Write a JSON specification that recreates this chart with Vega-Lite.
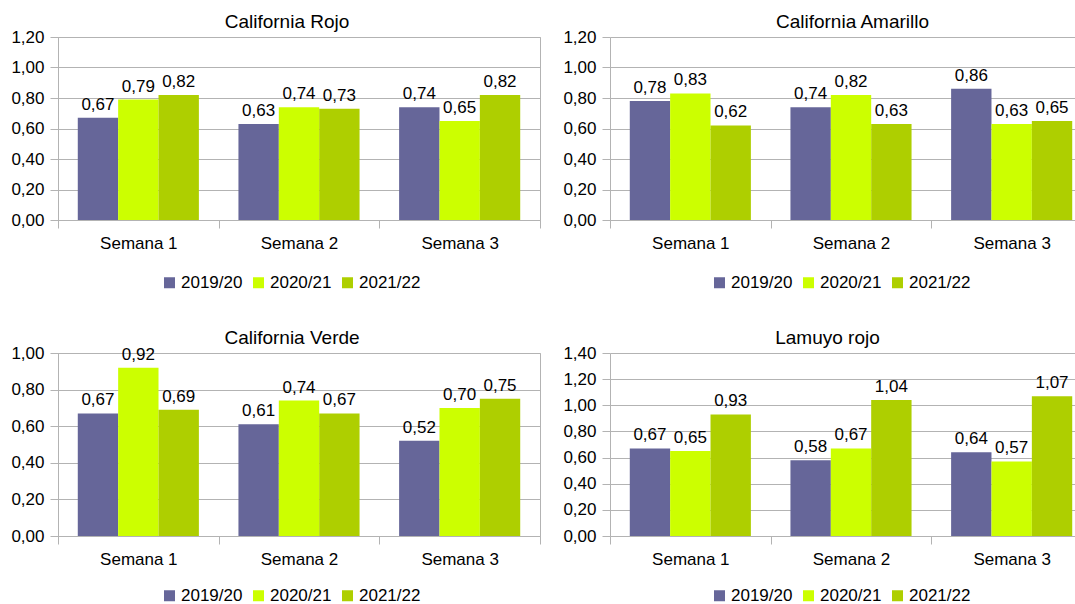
{
  "$schema": "https://vega.github.io/schema/vega-lite/v6.json",
  "background": "white",
  "padding": {"left": 10, "top": 12, "right": 0, "bottom": 0},
  "datasets": {
    "rojo": [
      {"semana": "Semana 1", "temporada": "2019/20", "valor": 0.67},
      {"semana": "Semana 1", "temporada": "2020/21", "valor": 0.79},
      {"semana": "Semana 1", "temporada": "2021/22", "valor": 0.82},
      {"semana": "Semana 2", "temporada": "2019/20", "valor": 0.63},
      {"semana": "Semana 2", "temporada": "2020/21", "valor": 0.74},
      {"semana": "Semana 2", "temporada": "2021/22", "valor": 0.73},
      {"semana": "Semana 3", "temporada": "2019/20", "valor": 0.74},
      {"semana": "Semana 3", "temporada": "2020/21", "valor": 0.65},
      {"semana": "Semana 3", "temporada": "2021/22", "valor": 0.82}
    ],
    "amarillo": [
      {"semana": "Semana 1", "temporada": "2019/20", "valor": 0.78},
      {"semana": "Semana 1", "temporada": "2020/21", "valor": 0.83},
      {"semana": "Semana 1", "temporada": "2021/22", "valor": 0.62},
      {"semana": "Semana 2", "temporada": "2019/20", "valor": 0.74},
      {"semana": "Semana 2", "temporada": "2020/21", "valor": 0.82},
      {"semana": "Semana 2", "temporada": "2021/22", "valor": 0.63},
      {"semana": "Semana 3", "temporada": "2019/20", "valor": 0.86},
      {"semana": "Semana 3", "temporada": "2020/21", "valor": 0.63},
      {"semana": "Semana 3", "temporada": "2021/22", "valor": 0.65}
    ],
    "verde": [
      {"semana": "Semana 1", "temporada": "2019/20", "valor": 0.67},
      {"semana": "Semana 1", "temporada": "2020/21", "valor": 0.92},
      {"semana": "Semana 1", "temporada": "2021/22", "valor": 0.69},
      {"semana": "Semana 2", "temporada": "2019/20", "valor": 0.61},
      {"semana": "Semana 2", "temporada": "2020/21", "valor": 0.74},
      {"semana": "Semana 2", "temporada": "2021/22", "valor": 0.67},
      {"semana": "Semana 3", "temporada": "2019/20", "valor": 0.52},
      {"semana": "Semana 3", "temporada": "2020/21", "valor": 0.70},
      {"semana": "Semana 3", "temporada": "2021/22", "valor": 0.75}
    ],
    "lamuyo": [
      {"semana": "Semana 1", "temporada": "2019/20", "valor": 0.67},
      {"semana": "Semana 1", "temporada": "2020/21", "valor": 0.65},
      {"semana": "Semana 1", "temporada": "2021/22", "valor": 0.93},
      {"semana": "Semana 2", "temporada": "2019/20", "valor": 0.58},
      {"semana": "Semana 2", "temporada": "2020/21", "valor": 0.67},
      {"semana": "Semana 2", "temporada": "2021/22", "valor": 1.04},
      {"semana": "Semana 3", "temporada": "2019/20", "valor": 0.64},
      {"semana": "Semana 3", "temporada": "2020/21", "valor": 0.57},
      {"semana": "Semana 3", "temporada": "2021/22", "valor": 1.07}
    ]
  },
  "spacing": 36,
  "resolve": {"scale": {"color": "independent"}, "legend": {"color": "independent"}},
  "vconcat": [
    {
      "spacing": 21,
      "resolve": {"scale": {"color": "independent"}, "legend": {"color": "independent"}},
      "hconcat": [
        {
          "title": {"text": "California Rojo", "dx": -12, "fontSize": 19, "fontWeight": "normal", "color": "black", "offset": -4},
          "data": {"name": "rojo"},
          "width": 482, "height": 183,
          "encoding": {
            "x": {"field": "semana", "type": "nominal", "scale": {"paddingInner": 0, "paddingOuter": 0}, "axis": {"tickBand": "extent"}},
            "xOffset": {"field": "temporada", "type": "nominal", "scale": {"paddingInner": 0, "paddingOuter": 0.49}},
            "y": {"field": "valor", "type": "quantitative", "scale": {"domain": [0, 1.2]}, "axis": {"values": [0, 0.2, 0.4, 0.6, 0.8, 1.0, 1.2]}},
            "color": {"field": "temporada", "type": "nominal", "scale": {"domain": ["2019/20", "2020/21", "2021/22"], "range": ["#666699", "#ccff00", "#aecf00"]}, "legend": {"orient": "none", "legendX": 103, "legendY": 237, "direction": "horizontal"}}
          },
          "layer": [
            {"mark": {"type": "bar"}},
            {"mark": {"type": "text", "dy": -8, "baseline": "alphabetic", "color": "black"}, "encoding": {"text": {"field": "valor", "type": "quantitative", "format": ".2f"}, "color": {"value": "black"}}}
          ]
        },
        {
          "title": {"text": "California Amarillo", "dx": 9, "fontSize": 19, "fontWeight": "normal", "color": "black", "offset": -4},
          "data": {"name": "amarillo"},
          "width": 467, "height": 183,
          "view": {"stroke": null},
          "encoding": {
            "x": {"field": "semana", "type": "nominal", "scale": {"paddingInner": 0, "paddingOuter": 0, "range": [0, 482]}, "axis": {"tickOffset": -80.33, "labelOffset": 80.33}},
            "xOffset": {"field": "temporada", "type": "nominal", "scale": {"paddingInner": 0, "paddingOuter": 0.49}},
            "y": {"field": "valor", "type": "quantitative", "scale": {"domain": [0, 1.2]}, "axis": {"values": [0, 0.2, 0.4, 0.6, 0.8, 1.0, 1.2]}},
            "color": {"field": "temporada", "type": "nominal", "scale": {"domain": ["2019/20", "2020/21", "2021/22"], "range": ["#666699", "#ccff00", "#aecf00"]}, "legend": {"orient": "none", "legendX": 101, "legendY": 237, "direction": "horizontal"}}
          },
          "layer": [
            {"mark": {"type": "bar"}},
            {"mark": {"type": "text", "dy": -8, "baseline": "alphabetic", "color": "black"}, "encoding": {"text": {"field": "valor", "type": "quantitative", "format": ".2f"}, "color": {"value": "black"}}}
          ]
        }
      ]
    },
    {
      "spacing": 21,
      "resolve": {"scale": {"color": "independent"}, "legend": {"color": "independent"}},
      "hconcat": [
        {
          "title": {"text": "California Verde", "dx": -7, "fontSize": 19, "fontWeight": "normal", "color": "black", "offset": -4},
          "data": {"name": "verde"},
          "width": 482, "height": 183,
          "encoding": {
            "x": {"field": "semana", "type": "nominal", "scale": {"paddingInner": 0, "paddingOuter": 0}, "axis": {"tickBand": "extent"}},
            "xOffset": {"field": "temporada", "type": "nominal", "scale": {"paddingInner": 0, "paddingOuter": 0.49}},
            "y": {"field": "valor", "type": "quantitative", "scale": {"domain": [0, 1.0]}, "axis": {"values": [0, 0.2, 0.4, 0.6, 0.8, 1.0]}},
            "color": {"field": "temporada", "type": "nominal", "scale": {"domain": ["2019/20", "2020/21", "2021/22"], "range": ["#666699", "#ccff00", "#aecf00"]}, "legend": {"orient": "none", "legendX": 103, "legendY": 234, "direction": "horizontal"}}
          },
          "layer": [
            {"mark": {"type": "bar"}},
            {"mark": {"type": "text", "dy": -8, "baseline": "alphabetic", "color": "black"}, "encoding": {"text": {"field": "valor", "type": "quantitative", "format": ".2f"}, "color": {"value": "black"}}}
          ]
        },
        {
          "title": {"text": "Lamuyo rojo", "dx": -16, "fontSize": 19, "fontWeight": "normal", "color": "black", "offset": -4},
          "data": {"name": "lamuyo"},
          "width": 467, "height": 183,
          "view": {"stroke": null},
          "encoding": {
            "x": {"field": "semana", "type": "nominal", "scale": {"paddingInner": 0, "paddingOuter": 0, "range": [0, 482]}, "axis": {"tickOffset": -80.33, "labelOffset": 80.33}},
            "xOffset": {"field": "temporada", "type": "nominal", "scale": {"paddingInner": 0, "paddingOuter": 0.49}},
            "y": {"field": "valor", "type": "quantitative", "scale": {"domain": [0, 1.4]}, "axis": {"values": [0, 0.2, 0.4, 0.6, 0.8, 1.0, 1.2, 1.4]}},
            "color": {"field": "temporada", "type": "nominal", "scale": {"domain": ["2019/20", "2020/21", "2021/22"], "range": ["#666699", "#ccff00", "#aecf00"]}, "legend": {"orient": "none", "legendX": 101, "legendY": 234, "direction": "horizontal"}}
          },
          "layer": [
            {"mark": {"type": "bar"}},
            {"mark": {"type": "text", "dy": -8, "baseline": "alphabetic", "color": "black"}, "encoding": {"text": {"field": "valor", "type": "quantitative", "format": ".2f"}, "color": {"value": "black"}}}
          ]
        }
      ]
    }
  ],
  "config": {
    "locale": {"number": {"decimal": ",", "thousands": ".", "grouping": [3], "currency": ["", " €"]}},
    "font": "Liberation Sans",
    "view": {"stroke": "#b3b3b3", "strokeWidth": 1},
    "title": {"fontSize": 19, "fontWeight": "normal", "color": "black", "font": "Liberation Sans"},
    "text": {"fontSize": 17, "font": "Liberation Sans"},
    "axis": {
      "labelFontSize": 17, "labelColor": "black", "labelFont": "Liberation Sans",
      "gridColor": "#b3b3b3", "domainColor": "#b3b3b3", "tickColor": "#b3b3b3",
      "tickSize": 8, "title": null
    },
    "axisX": {"grid": false, "labelAngle": 0, "labelPadding": 7},
    "axisY": {"labelPadding": 6, "format": ".2f", "grid": true},
    "legend": {
      "title": null,
      "symbolType": "square", "symbolSize": 121, "symbolStrokeWidth": 0,
      "labelFontSize": 17, "labelColor": "black", "labelFont": "Liberation Sans",
      "labelOffset": 3, "columnPadding": 7, "labelLimit": 300
    }
  }
}
